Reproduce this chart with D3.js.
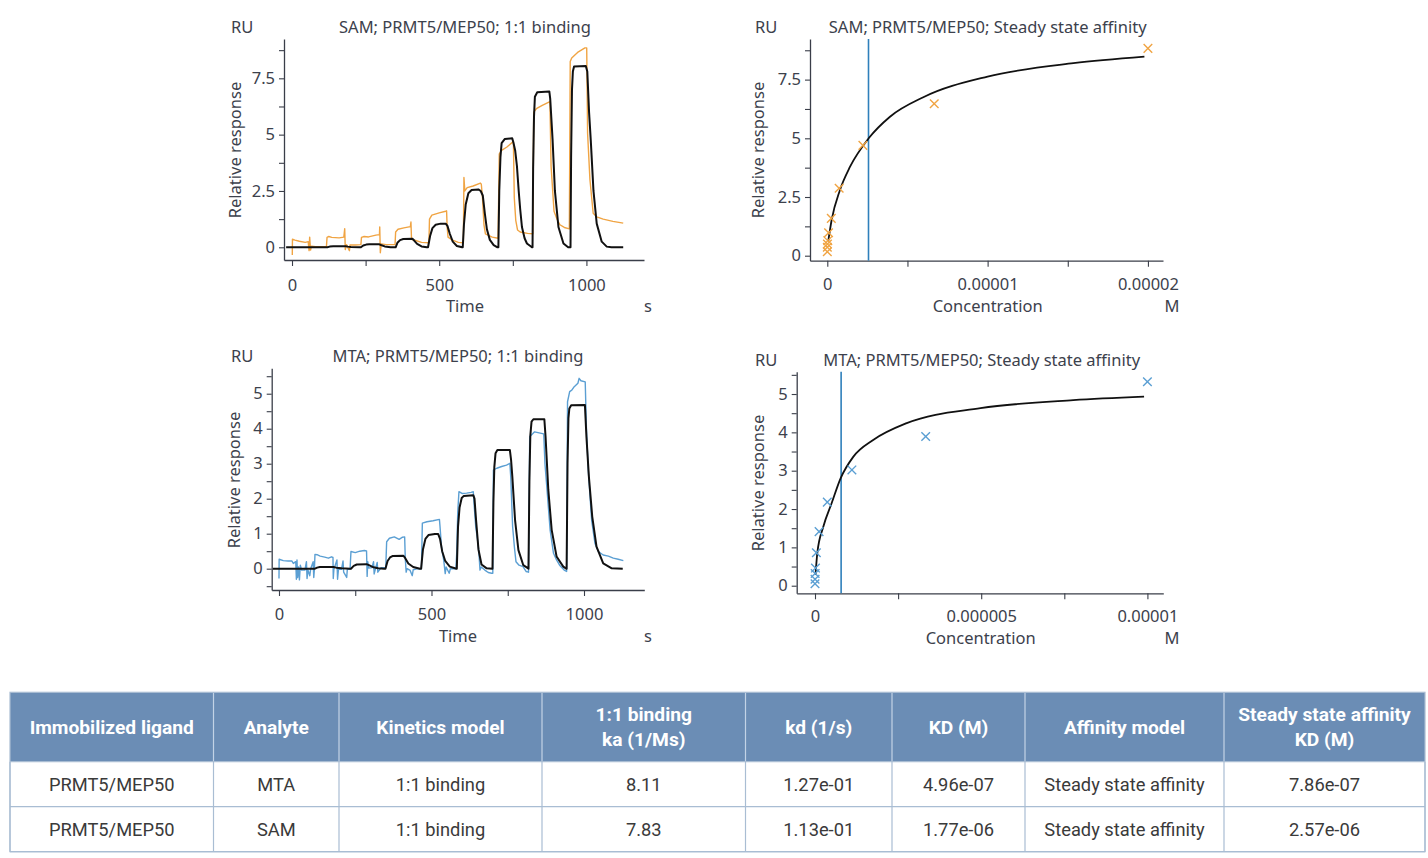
<!DOCTYPE html>
<html><head><meta charset="utf-8">
<script src="https://cdn.jsdelivr.net/npm/d3@7"></script>
<style>
body{margin:0;background:#fff;}
svg{display:block;}
</style></head><body>
<svg id="c" width="1428" height="858"></svg>
<script>
// ---------------- DATA ----------------
// SAM sensorgram: measured response [time s, RU]
const samData = [[1,-0.34],[1.5,0.36],[10,0.32],[25,0.27],[45,0.22],[55,0.25],[58,-0.15],[60,0.45],[63,-0.12],[66,0.05],[80,0.03],[100,0.03],[117,0.04],
[119,0.44],[125,0.48],[135,0.44],[160,0.42],[176,0.45],[179,0.82],[181,-0.1],[185,0.12],[195,-0.15],[197,0.1],[215,0.1],[234,0.12],
[236,0.44],[245,0.48],[260,0.46],[285,0.54],[297,0.56],[298,0.9],[300,-0.24],[303,0.15],[320,0.12],[350,0.12],
[352,0.68],[360,0.8],[380,0.86],[402,0.92],[404,1.12],[406,0.35],[420,0.3],[440,0.22],[465,0.2],
[467,1.25],[475,1.43],[500,1.53],[522,1.6],[525,1.62],[527,0.9],[530,0.45],[545,0.32],[565,0.22],[582,0.2],
[584,3.1],[587,2.5],[595,2.65],[615,2.72],[640,2.85],[643,2.8],[647,2.2],[652,1.0],[657,0.6],[680,0.45],[700,0.4],
[704,4.15],[712,4.3],[730,4.45],[752,4.7],[755,2.2],[760,1.2],[766,0.77],[775,0.68],[800,0.62],[818,0.6],
[821,6.0],[830,6.15],[850,6.3],[876,6.47],[880,3.6],[890,1.6],[900,1.25],[910,1.0],[925,0.88],[942,0.82],
[945,8.25],[950,8.4],[970,8.65],[995,8.85],[1001,8.85],[1004,5.06],[1012,3.0],[1023,1.51],[1035,1.35],[1057,1.25],[1090,1.15],[1125,1.07]];
// SAM sensorgram: 1:1 binding fit [time s, RU]
const samFit = [[-20,0],[120,0],[128,0.03],[140,0.045],[182,0.05],[190,0.03],[200,0.01],[230,0],
[234,0],[242,0.08],[252,0.12],[262,0.13],[295,0.14],[302,0.1],[315,0.04],[335,0],
[352,0],[358,0.2],[367,0.32],[378,0.37],[409,0.38],[415,0.3],[425,0.15],[440,0.04],[458,0],
[462,0],[469,0.5],[477,0.85],[488,1.0],[505,1.05],[522,1.05],[528,0.95],[536,0.6],[546,0.25],[560,0.06],[578,0],
[580,0],[584,1.0],[590,1.9],[599,2.4],[610,2.54],[633,2.57],[641,2.5],[648,2.3],[655,1.5],[662,0.8],[672,0.33],[685,0.1],[698,0],
[701,0],[704,2.5],[708,4.0],[712,4.62],[723,4.81],[748,4.84],[752,4.65],[758,4.3],[764,3.6],[770,2.5],[775,1.7],[781,0.9],[790,0.4],[798,0.17],[815,0],
[817,0],[819,3.5],[822,5.8],[825,6.68],[833,6.88],[874,6.92],[877,6.6],[885,4.8],[893,2.5],[905,0.9],[922,0.17],[938,0],
[946,0],[948,4.0],[951,7.0],[954,7.8],[958,8.02],[998,8.05],[1003,7.8],[1009,6.0],[1015,4.7],[1024,2.5],[1035,1.05],[1052,0.25],[1069,0.03],[1085,0],[1125,0]];
// MTA sensorgram: measured response [time s, RU]
const mtaData = [[0,-0.28],[0.5,0.27],[14,0.23],[30,0.22],[42,0.22],[47,0.15],[55,0.2],[57,-0.3],[59,0.25],[61,-0.25],[64,0.05],[67,-0.32],[70,0.1],[74,-0.04],[85,-0.04],[90,0.2],[92,-0.28],[95,-0.04],[101,-0.2],[104,0.0],[112,0.2],[114,-0.25],[116,-0.03],
[118,0.41],[125,0.4],[135,0.36],[150,0.33],[162,0.3],[172,0.34],[177,0.32],[178,-0.28],[180,-0.02],[190,0.25],[192,-0.3],[195,-0.02],[205,-0.02],[210,0.22],[212,-0.1],[222,-0.25],[224,-0.02],[233,-0.02],
[236,0.49],[250,0.46],[265,0.5],[280,0.52],[287,0.51],[289,-0.22],[291,0.2],[294,0.02],[305,0.03],[310,0.2],[312,-0.15],[322,0.18],[324,-0.1],[335,0.03],[350,0.03],
[353,0.77],[362,0.87],[378,0.91],[394,0.84],[405,0.9],[412,0.91],[414,0.3],[417,-0.1],[420,0.0],[430,-0.05],[437,-0.2],[440,-0.03],[455,0.0],[467,0.0],
[470,1.3],[485,1.34],[505,1.37],[526,1.41],[528,1.2],[533,0.6],[540,0.25],[545,-0.14],[548,0.05],[558,-0.13],[562,0.0],[580,0.0],
[583,0.5],[586,1.6],[590,2.2],[600,2.15],[615,2.16],[630,2.18],[637,2.2],[640,1.8],[645,1.2],[651,0.82],[655,0.52],[659,-0.04],[663,0.05],[675,-0.04],[686,-0.11],[697,-0.13],[701,-0.13],
[703,2.82],[714,2.87],[730,2.92],[746,2.96],[757,3.01],[760,2.6],[766,1.2],[772,0.6],[777,0.2],[787,0.1],[800,0.06],[810,-0.08],[818,-0.1],
[822,3.77],[838,3.91],[864,3.86],[868,3.85],[872,3.0],[878,2.34],[889,1.1],[900,0.44],[910,0.25],[920,0.1],[935,-0.04],[943,-0.08],
[946,4.77],[953,5.06],[960,5.1],[968,5.2],[980,5.3],[984,5.44],[990,5.37],[1004,5.34],[1008,4.0],[1014,2.82],[1025,1.39],[1036,0.72],[1047,0.49],[1063,0.39],[1080,0.36],[1096,0.3],[1112,0.27],[1129,0.23]];
// MTA sensorgram: 1:1 binding fit [time s, RU]
const mtaFit = [[-20,0],[118,0],[125,0.03],[134,0.05],[178,0.05],[188,0.03],[205,0.01],[233,0],
[236,0],[245,0.08],[255,0.12],[287,0.13],[295,0.1],[310,0.04],[325,0.01],[345,0],
[349,0],[356,0.22],[364,0.32],[372,0.36],[408,0.37],[414,0.3],[424,0.15],[440,0.05],[462,0],
[466,0],[472,0.55],[480,0.85],[490,0.96],[511,0.99],[522,0.99],[528,0.85],[535,0.5],[545,0.22],[560,0.06],[582,0],
[583,0],[587,1.2],[592,1.75],[599,2.02],[606,2.08],[637,2.1],[641,2.0],[646,1.4],[654,0.55],[664,0.12],[681,0.01],[699,0],
[700,0],[703,1.9],[706,2.9],[710,3.3],[716,3.39],[757,3.39],[761,3.1],[765,2.63],[774,1.39],[785,0.53],[801,0.1],[817,0.01],
[818,0],[821,2.5],[824,3.8],[828,4.2],[834,4.27],[870,4.27],[874,3.77],[883,2.25],[894,1.11],[910,0.35],[932,0.06],[942,0],
[943,0],[946,3.0],[949,4.3],[952,4.58],[958,4.67],[1003,4.68],[1008,3.77],[1016,2.63],[1027,1.49],[1041,0.63],[1063,0.15],[1091,0.01],[1127,0]];

// Steady state affinity: concentrations (M) and responses (RU)
const samConc = [2e-5, 6.67e-6, 2.22e-6, 7.4e-7, 2.5e-7, 8e-8, 3e-8, 1e-8, 3e-9, 1e-9];
const samResp = [8.83, 6.47, 4.70, 2.87, 1.59, 0.98, 0.64, 0.50, 0.36, 0.17];
const samAffFit = [[6e-8,0.62],[2.7e-7,1.52],[7.9e-7,2.8],[1.42e-6,3.79],[2.58e-6,5.0],[3.91e-6,5.92],[5.99e-6,6.75],[1e-5,7.63],[1.535e-5,8.2],[1.978e-5,8.48]];
const samKD = 2.57e-6;
const mtaConc = [1e-5, 3.33e-6, 1.11e-6, 3.7e-7, 1.23e-7, 4.1e-8, 1.37e-8, 4.6e-9, 1.5e-9, 5e-10];
const mtaResp = [5.32, 3.89, 3.02, 2.18, 1.41, 0.86, 0.46, 0.32, 0.17, 0.05];
const mtaAffFit = [[1.5e-8,0.28],[6.9e-8,0.85],[2.5e-7,1.54],[5e-7,2.15],[7.7e-7,2.8],[1.15e-6,3.36],[1.75e-6,3.8],[2.76e-6,4.24],[4.98e-6,4.63],[7.77e-6,4.84],[9.9e-6,4.93]];
const mtaKD = 7.86e-7;

// Tick labels
const timeTicks = [0, 500, 1000];
const timeMinor = [250, 750];
const samRuTicks = [0, 2.5, 5, 7.5];
const samRuMinor = [1.25, 3.75, 6.25, 8.75];
const mtaRuTicks = [0, 1, 2, 3, 4, 5];
const mtaRuMinor = [-0.5, 0.5, 1.5, 2.5, 3.5, 4.5, 5.5];
const mtaRuMinorAff = [0.5, 1.5, 2.5, 3.5, 4.5, 5.5];
const samConcTicks = [0, 1e-5, 2e-5];
const samConcLabels = ["0", "0.00001", "0.00002"];
const samConcMinor = [5e-6, 1.5e-5];
const mtaConcTicks = [0, 5e-6, 1e-5];
const mtaConcLabels = ["0", "0.000005", "0.00001"];
const mtaConcMinor = [2.5e-6, 7.5e-6];

// Table
const tableHeaders = [["Immobilized ligand"],["Analyte"],["Kinetics model"],["1:1 binding","ka (1/Ms)"],["kd (1/s)"],["KD (M)"],["Affinity model"],["Steady state affinity","KD (M)"]];
const tableRows = [
  ["PRMT5/MEP50","MTA","1:1 binding","8.11","1.27e-01","4.96e-07","Steady state affinity","7.86e-07"],
  ["PRMT5/MEP50","SAM","1:1 binding","7.83","1.13e-01","1.77e-06","Steady state affinity","2.57e-06"]
];

// ---------------- DRAW ----------------
const svg = d3.select("#c");
svg.append("rect").attr("width",1428).attr("height",858).attr("fill","#fff");
const TXT = "#3c414c";
const FONT = "'Noto Sans', sans-serif";
const FS = 16.5;
const ORANGE = "#f0a443", BLUE = "#5b9fd3", VLINE = "#2f80bb";

function styleAxis(g, fs){
  g.attr("font-family", FONT).attr("font-size", fs);
  g.select(".domain").attr("stroke", "#3a3e49").attr("stroke-width", 1.3);
  g.selectAll(".tick line").attr("stroke", "#3a3e49").attr("stroke-width", 1.1);
  g.selectAll(".tick text").attr("fill", TXT);
}

function panel(o){
  const x = d3.scaleLinear().domain(o.xd).range(o.xr);
  const y = d3.scaleLinear().domain(o.yd).range(o.yr);
  const g = svg.append("g");
  // minor ticks
  g.append("g").attr("transform", `translate(0,${o.yr[0]})`)
    .call(d3.axisBottom(x).tickValues(o.xMinor).tickFormat("").tickSize(6).tickSizeOuter(0))
    .call(a => { a.select(".domain").remove(); styleAxis(a, FS); });
  g.append("g").attr("transform", `translate(${o.xr[0]},0)`)
    .call(d3.axisLeft(y).tickValues(o.yMinor).tickFormat("").tickSize(5).tickSizeOuter(0))
    .call(a => { a.select(".domain").remove(); styleAxis(a, FS); });
  // major axes
  g.append("g").attr("transform", `translate(0,${o.yr[0]})`)
    .call(d3.axisBottom(x).tickValues(o.xTicks).tickFormat((d,i)=>o.xLabels[i]).tickSize(6).tickPadding(o.xPad).tickSizeOuter(0))
    .call(a => styleAxis(a, FS));
  g.append("g").attr("transform", `translate(${o.xr[0]},0)`)
    .call(d3.axisLeft(y).tickValues(o.yTicks).tickFormat(d3.format("~g")).tickSize(5).tickPadding(4).tickSizeOuter(0))
    .call(a => styleAxis(a, FS));
  // texts
  const t = (txt, xx, yy, anchor, rot) => {
    const el = g.append("text").text(txt).attr("font-family", FONT).attr("font-size", FS)
      .attr("fill", TXT).attr("text-anchor", anchor || "middle");
    if (rot) el.attr("transform", `translate(${xx},${yy}) rotate(-90)`).attr("dy", "0.35em");
    else el.attr("x", xx).attr("y", yy).attr("dy", "0.35em");
    return el;
  };
  t("RU", o.ruX, o.titleY, "start");
  t(o.title, o.titleX, o.titleY);
  t(o.xName, o.xNameX, o.xNameY);
  t(o.unit, o.unitX, o.xNameY);
  t("Relative response", o.yNameX, o.yNameY, "middle", true);
  return {x, y, g};
}

const lineGen = (x, y, curve) => d3.line().x(d => x(d[0])).y(d => y(d[1])).curve(curve || d3.curveLinear);

// Top-left: SAM 1:1 binding
{
  const p = panel({xd:[-27.2,1195.6], xr:[284,644], yd:[-0.564,9.245], yr:[260,39],
    xTicks: timeTicks, xLabels: timeTicks.map(String), xMinor: timeMinor, xPad: 13,
    yTicks: samRuTicks, yMinor: samRuMinor,
    title:"SAM; PRMT5/MEP50; 1:1 binding", titleX:465, titleY:27, ruX:231,
    xName:"Time", xNameX:465, xNameY:306, unit:"s", unitX:648, yNameX:235, yNameY:150});
  p.g.append("path").datum(samData).attr("d", lineGen(p.x,p.y)).attr("fill","none").attr("stroke",ORANGE).attr("stroke-width",1.4).attr("stroke-linejoin","round");
  p.g.append("path").datum(samFit).attr("d", lineGen(p.x,p.y)).attr("fill","none").attr("stroke","#111").attr("stroke-width",2).attr("stroke-linejoin","round");
}
// Bottom-left: MTA 1:1 binding
{
  const p = panel({xd:[-23.9,1197.7], xr:[271.7,644.3], yd:[-0.609,5.726], yr:[590,368.3],
    xTicks: timeTicks, xLabels: timeTicks.map(String), xMinor: timeMinor, xPad: 12,
    yTicks: mtaRuTicks, yMinor: mtaRuMinor,
    title:"MTA; PRMT5/MEP50; 1:1 binding", titleX:458, titleY:356.5, ruX:231,
    xName:"Time", xNameX:458, xNameY:636, unit:"s", unitX:648, yNameX:234, yNameY:480});
  p.g.append("path").datum(mtaData).attr("d", lineGen(p.x,p.y)).attr("fill","none").attr("stroke",BLUE).attr("stroke-width",1.4).attr("stroke-linejoin","round");
  p.g.append("path").datum(mtaFit).attr("d", lineGen(p.x,p.y)).attr("fill","none").attr("stroke","#111").attr("stroke-width",2).attr("stroke-linejoin","round");
}
function crosses(p, conc, resp, color){
  const pts = conc.map((c,i)=>[c, resp[i]]);
  p.g.selectAll(null).data(pts).join("path")
    .attr("d", d => { const cx = p.x(d[0]), cy = p.y(d[1]), r = 4.3;
      return `M${cx-r},${cy-r}L${cx+r},${cy+r}M${cx-r},${cy+r}L${cx+r},${cy-r}`; })
    .attr("stroke", color).attr("stroke-width", 1.4).attr("fill","none");
}
// Top-right: SAM steady state
{
  const p = panel({xd:[-1.079e-6,2.094e-5], xr:[810,1163], yd:[-0.213,9.23], yr:[260.7,39],
    xTicks: samConcTicks, xLabels: samConcLabels, xMinor: samConcMinor, xPad: 11.5,
    yTicks: samRuTicks, yMinor: samRuMinor,
    title:"SAM; PRMT5/MEP50; Steady state affinity", titleX:987.7, titleY:27, ruX:755,
    xName:"Concentration", xNameX:987.7, xNameY:306, unit:"M", unitX:1172, yNameX:758, yNameY:150});
  p.g.append("line").attr("x1", p.x(samKD)).attr("x2", p.x(samKD)).attr("y1", 39).attr("y2", 260.7)
    .attr("stroke", VLINE).attr("stroke-width", 1.6);
  p.g.append("path").datum(samAffFit).attr("d", lineGen(p.x,p.y,d3.curveMonotoneX)).attr("fill","none").attr("stroke","#111").attr("stroke-width",1.8);
  crosses(p, samConc, samResp, ORANGE);
}
// Bottom-right: MTA steady state
{
  const p = panel({xd:[-5.505e-7,1.0478e-5], xr:[796.7,1163.3], yd:[-0.198,5.582], yr:[593.3,371.7],
    xTicks: mtaConcTicks, xLabels: mtaConcLabels, xMinor: mtaConcMinor, xPad: 11,
    yTicks: mtaRuTicks, yMinor: mtaRuMinorAff,
    title:"MTA; PRMT5/MEP50; Steady state affinity", titleX:981.7, titleY:360.7, ruX:755,
    xName:"Concentration", xNameX:980.7, xNameY:638.3, unit:"M", unitX:1172, yNameX:758, yNameY:483});
  p.g.append("line").attr("x1", p.x(mtaKD)).attr("x2", p.x(mtaKD)).attr("y1", 371.7).attr("y2", 593.3)
    .attr("stroke", VLINE).attr("stroke-width", 1.6);
  p.g.append("path").datum(mtaAffFit).attr("d", lineGen(p.x,p.y,d3.curveMonotoneX)).attr("fill","none").attr("stroke","#111").attr("stroke-width",1.8);
  crosses(p, mtaConc, mtaResp, BLUE);
}

// Table
{
  const colX = [10, 213.5, 339, 542, 745.5, 892, 1025, 1224, 1425];
  const rowY = [692.3, 761.7, 806.7, 851.7];
  const tg = svg.append("g");
  const TF = "Roboto, sans-serif";
  tg.append("rect").attr("x", colX[0]).attr("y", rowY[0]).attr("width", colX[8]-colX[0]).attr("height", rowY[1]-rowY[0]).attr("fill", "#6b8db5");
  tg.selectAll(null).data(colX.slice(1,-1)).join("line")
    .attr("x1", d=>d).attr("x2", d=>d).attr("y1", rowY[0]).attr("y2", rowY[1])
    .attr("stroke", "#c3d3e6").attr("stroke-width", 1.2);
  tg.selectAll(null).data(colX).join("line")
    .attr("x1", d=>d).attr("x2", d=>d).attr("y1", rowY[1]).attr("y2", rowY[3])
    .attr("stroke", "#a9bdd3").attr("stroke-width", 1.2);
  tg.selectAll(null).data(rowY.slice(1)).join("line")
    .attr("x1", colX[0]).attr("x2", colX[8]).attr("y1", d=>d).attr("y2", d=>d)
    .attr("stroke", "#a9bdd3").attr("stroke-width", 1.2);
  tg.append("rect").attr("x", colX[0]).attr("y", rowY[0]).attr("width", colX[8]-colX[0]).attr("height", rowY[3]-rowY[0])
    .attr("fill","none").attr("stroke","#a9bdd3").attr("stroke-width",1.2);
  tableHeaders.forEach((lines, i) => {
    const cx = (colX[i]+colX[i+1])/2;
    const cy = (rowY[0]+rowY[1])/2;
    lines.forEach((ln, j) => {
      const yy = lines.length === 1 ? cy : (j === 0 ? cy - 12.5 : cy + 12.5);
      tg.append("text").text(ln).attr("x", cx).attr("y", yy).attr("dy","0.36em")
        .attr("text-anchor","middle").attr("font-family", TF).attr("font-weight", 700)
        .attr("font-size", 19.2).attr("fill", "#fff");
    });
  });
  tableRows.forEach((row, r) => {
    const cy = (rowY[r+1]+rowY[r+2])/2;
    row.forEach((v, i) => {
      tg.append("text").text(v).attr("x", (colX[i]+colX[i+1])/2).attr("y", cy).attr("dy","0.36em")
        .attr("text-anchor","middle").attr("font-family", TF).attr("font-size", 18.3).attr("fill", "#3a3a3a");
    });
  });
}
</script>
</body></html>
